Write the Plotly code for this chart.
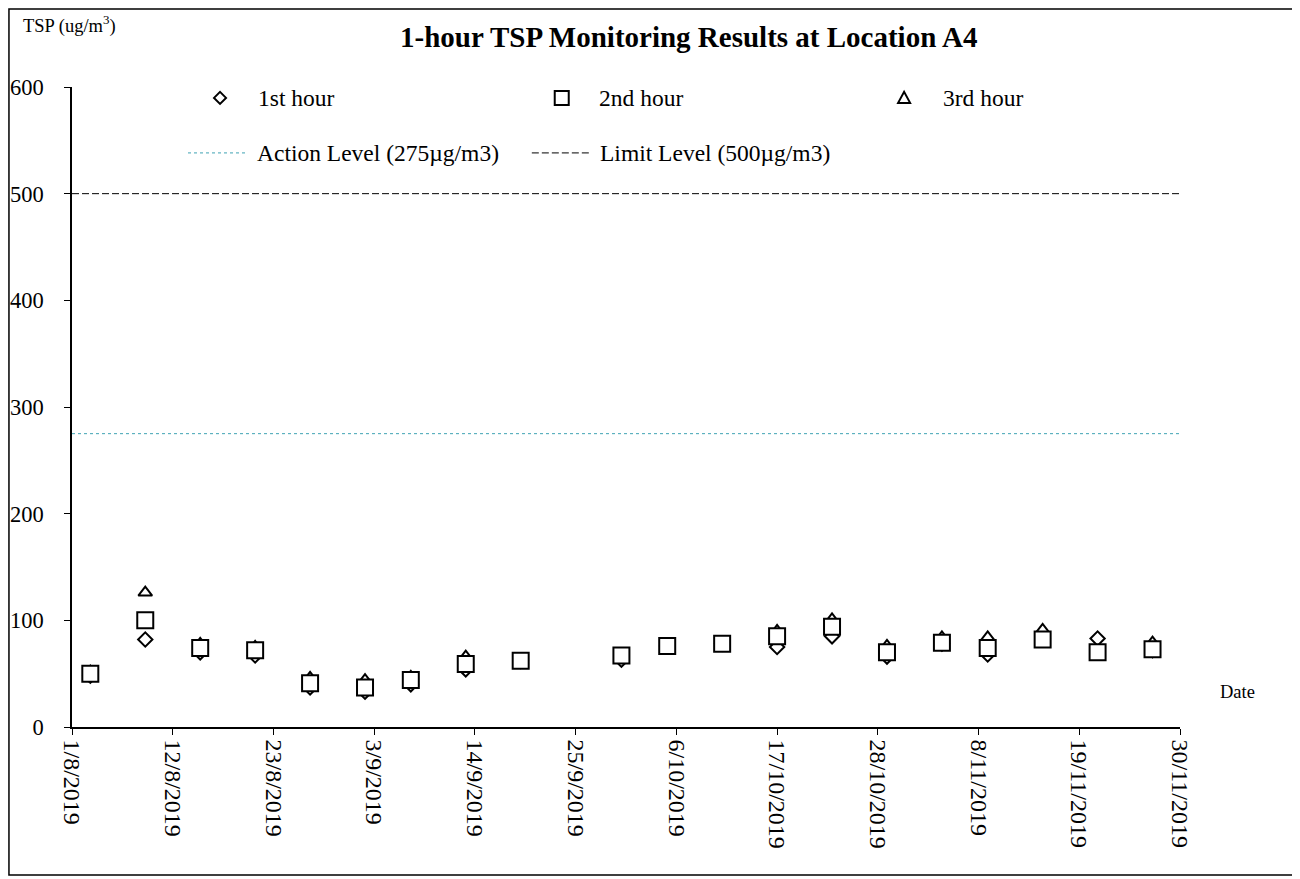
import plotly.graph_objects as go

# ---------------- data ----------------
dates = ["2019-08-03", "2019-08-09", "2019-08-15", "2019-08-21", "2019-08-27",
         "2019-09-02", "2019-09-07", "2019-09-13", "2019-09-19", "2019-09-30",
         "2019-10-05", "2019-10-11", "2019-10-17", "2019-10-23", "2019-10-29",
         "2019-11-04", "2019-11-09", "2019-11-15", "2019-11-21", "2019-11-27"]
hour1 = [48, 82, 70, 67, 37, 33, 40, 54, 62, 63, 76, 78, 75, 85, 66, 78, 68, 83, 83, 72]
hour2 = [50, 100, 74, 72, 41, 37, 44, 59, 62, 67, 76, 78, 85, 94, 70, 79, 74, 82, 70, 73]
hour3 = [52, 126, 78, 75, 46, 44, 47, 66, 62, 67, 76, 79, 90, 101, 76, 84, 84, 91, 70, 79]

action_level = 275
limit_level = 500

tick_dates = ["2019-08-01", "2019-08-12", "2019-08-23", "2019-09-03", "2019-09-14",
              "2019-09-25", "2019-10-06", "2019-10-17", "2019-10-28", "2019-11-08",
              "2019-11-19", "2019-11-30"]
tick_labels = ["1/8/2019", "12/8/2019", "23/8/2019", "3/9/2019", "14/9/2019",
               "25/9/2019", "6/10/2019", "17/10/2019", "28/10/2019", "8/11/2019",
               "19/11/2019", "30/11/2019"]
y_ticks = [0, 100, 200, 300, 400, 500, 600]

x_range = [tick_dates[0], tick_dates[-1]]

FONT = "Times New Roman, Liberation Serif, DejaVu Serif, serif"
ACTION_COLOR = "#3FA3B3"

fig = go.Figure()

# level lines
fig.add_trace(go.Scatter(x=x_range, y=[action_level, action_level], mode="lines",
                         line=dict(color=ACTION_COLOR, width=1, dash="dot"),
                         showlegend=False, hoverinfo="skip"))
fig.add_trace(go.Scatter(x=x_range, y=[limit_level, limit_level], mode="lines",
                         line=dict(color="black", width=1, dash="7px,3px"),
                         showlegend=False, hoverinfo="skip"))

# series (1st, 3rd then 2nd so squares sit on top)
fig.add_trace(go.Scatter(x=dates, y=hour1, mode="markers", name="1st hour",
                         marker=dict(symbol="diamond", size=11, color="white",
                                     line=dict(color="black", width=2)),
                         showlegend=False))
fig.add_trace(go.Scatter(x=dates, y=hour3, mode="markers", name="3rd hour",
                         marker=dict(symbol="triangle-up", size=12, color="white",
                                     line=dict(color="black", width=2)),
                         showlegend=False))
fig.add_trace(go.Scatter(x=dates, y=hour2, mode="markers", name="2nd hour",
                         marker=dict(symbol="square", size=16, color="white",
                                     line=dict(color="black", width=2)),
                         showlegend=False))

shapes = []
annotations = []

# outer border
shapes.append(dict(type="rect", xref="paper", yref="paper",
                   x0=-0.0569, x1=1.1047, y0=-0.23125, y1=1.1219,
                   line=dict(color="black", width=1.5), fillcolor="rgba(0,0,0,0)",
                   layer="above"))

# legend (manual layout)
row1_y = 0.983
row2_y = 0.897
shapes.append(dict(type="path", xref="paper", yref="paper", xsizemode="pixel",
                   ysizemode="pixel", xanchor=0.1336, yanchor=row1_y,
                   path="M 0 6 L 6 0 L 0 -6 L -6 0 Z",
                   line=dict(color="black", width=2)))
shapes.append(dict(type="rect", xref="paper", yref="paper", xsizemode="pixel",
                   ysizemode="pixel", xanchor=0.442, yanchor=row1_y,
                   x0=-7, x1=7, y0=-7, y1=7,
                   line=dict(color="black", width=2)))
shapes.append(dict(type="path", xref="paper", yref="paper", xsizemode="pixel",
                   ysizemode="pixel", xanchor=0.751, yanchor=row1_y,
                   path="M -6 -5 L 6 -5 L 0 6 Z",
                   line=dict(color="black", width=2)))
shapes.append(dict(type="line", xref="paper", yref="paper", x0=0.1047, x1=0.1588,
                   y0=row2_y, y1=row2_y, line=dict(color=ACTION_COLOR, width=1, dash="dot")))
shapes.append(dict(type="line", xref="paper", yref="paper", x0=0.415, x1=0.4675,
                   y0=row2_y, y1=row2_y, line=dict(color="black", width=1, dash="7px,3px")))

leg_font = dict(family=FONT, size=23.5, color="black")
for x, t, y in [(0.166, "1st hour", row1_y), (0.474, "2nd hour", row1_y),
                (0.784, "3rd hour", row1_y),
                (0.165, "Action Level (275µg/m3)", row2_y),
                (0.4746, "Limit Level (500µg/m3)", row2_y)]:
    annotations.append(dict(xref="paper", yref="paper", x=x, y=y, text=t,
                            showarrow=False, xanchor="left", yanchor="middle",
                            font=leg_font))

annotations.append(dict(xref="paper", yref="paper", x=0.556, y=1.078,
                        text="<b>1-hour TSP Monitoring Results at Location A4</b>",
                        showarrow=False, xanchor="center", yanchor="middle",
                        font=dict(family=FONT, size=29, color="black")))
annotations.append(dict(xref="paper", yref="paper", x=-0.046, y=1.097,
                        text="TSP (ug/m<sup>3</sup>)", showarrow=False,
                        xanchor="left", yanchor="middle",
                        font=dict(family=FONT, size=18.5, color="black")))
annotations.append(dict(xref="paper", yref="paper", x=1.052, y=0.0547,
                        text="Date", showarrow=False, xanchor="center",
                        yanchor="middle", font=dict(family=FONT, size=18.5, color="black")))

# the page adds an 8px body margin, so the figure is shrunk by 8px and margins shifted
fig.update_layout(
    width=1292, height=871,
    margin=dict(l=64, r=120, t=79, b=152, autoexpand=False),
    paper_bgcolor="white", plot_bgcolor="white",
    showlegend=False,
    shapes=shapes, annotations=annotations,
    font=dict(family=FONT, color="black"),
    xaxis=dict(type="date", range=x_range, tickmode="array",
               tickvals=tick_dates, ticktext=tick_labels, tickangle=90,
               showgrid=False, zeroline=False, showline=True,
               linecolor="black", linewidth=1.5, ticks="outside", ticklen=6,
               tickcolor="black", tickwidth=1,
               tickfont=dict(family=FONT, size=24, color="black")),
    yaxis=dict(range=[0, 600], tickmode="array", tickvals=y_ticks,
               showgrid=False, zeroline=False, showline=True,
               linecolor="black", linewidth=1.5, ticks="outside", ticklen=6,
               tickcolor="black", tickwidth=1, ticklabelstandoff=16,
               tickfont=dict(family=FONT, size=22.5, color="black")),
)

fig.write_html("out.html")
